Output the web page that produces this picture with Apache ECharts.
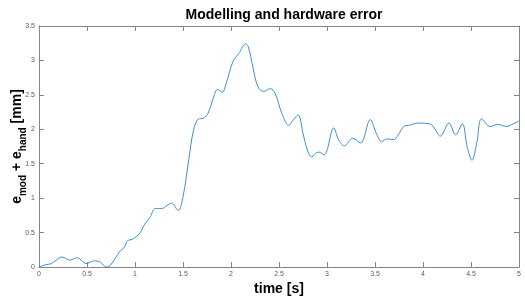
<!DOCTYPE html>
<html><head><meta charset="utf-8">
<script src="https://cdn.jsdelivr.net/npm/echarts@6/dist/echarts.min.js"></script>
<style>html,body{margin:0;padding:0;background:#fff}#c{width:525px;height:299px}</style>
</head><body><div id="c"></div>
<script>
const titleText = "Modelling and hardware error";
const xTicks = [0,0.5,1,1.5,2,2.5,3,3.5,4,4.5,5];
const yTicks = [0,0.5,1,1.5,2,2.5,3,3.5];
const times = [0,0.06,0.13,0.18,0.24,0.32,0.40,0.49,0.58,0.64,0.70,0.74,0.85,0.88,0.93,0.97,1.05,1.10,1.16,1.21,1.28,1.33,1.38,1.45,1.50,1.56,1.61,1.66,1.71,1.76,1.82,1.86,1.91,1.95,2.02,2.09,2.15,2.18,2.23,2.28,2.34,2.41,2.46,2.53,2.60,2.65,2.70,2.75,2.80,2.84,2.91,2.97,3.07,3.12,3.18,3.27,3.35,3.45,3.52,3.57,3.62,3.69,3.80,3.86,3.95,4.07,4.13,4.18,4.27,4.34,4.41,4.46,4.51,4.56,4.61,4.70,4.78,4.87,4.94,5.0];
const errors = [0,0.03,0.05,0.1,0.145,0.1,0.135,0.05,0.09,0.07,0.0,0.02,0.24,0.27,0.39,0.40,0.49,0.62,0.73,0.85,0.85,0.89,0.93,0.82,1.02,1.56,1.99,2.15,2.16,2.23,2.47,2.58,2.54,2.67,2.98,3.12,3.24,3.2,2.89,2.62,2.55,2.59,2.52,2.23,2.06,2.14,2.21,1.94,1.68,1.60,1.67,1.63,2.02,1.85,1.76,1.87,1.80,2.14,1.92,1.82,1.86,1.85,2.04,2.06,2.09,2.08,1.99,1.90,2.09,1.92,2.08,1.75,1.55,1.80,2.15,2.04,2.07,2.04,2.08,2.12];

const axisColor = '#858585';
const labelColor = '#5a5a5a';
const font = 'Liberation Sans, Arial, sans-serif';
const chart = echarts.init(document.getElementById('c'), null, {renderer:'canvas'});
const xBase = {type:'value', min:xTicks[0], max:xTicks[xTicks.length-1], interval:0.5,
  axisLine:{show:true, onZero:false, lineStyle:{color:axisColor, width:1}},
  axisTick:{show:true, inside:true, length:5, lineStyle:{color:axisColor}},
  splitLine:{show:false}};
const yBase = {type:'value', min:yTicks[0], max:yTicks[yTicks.length-1], interval:0.5,
  axisLine:{show:true, onZero:false, lineStyle:{color:axisColor, width:1}},
  axisTick:{show:true, inside:true, length:5, lineStyle:{color:axisColor}},
  splitLine:{show:false}};
chart.setOption({
  animation:false,
  backgroundColor:'#fff',
  title:{text:titleText, left:279, top:3, textAlign:'center',
    textStyle:{fontFamily:font, fontSize:14, fontWeight:'bold', color:'#000'}},
  grid:{left:39, right:6, top:26, bottom:32, containLabel:false, outerBoundsMode:'none'},
  xAxis:[
    Object.assign({}, xBase, {position:'bottom', name:'time [s]', nameLocation:'middle', nameGap:15, nameMoveOverlap:false,
      nameTextStyle:{fontFamily:font, fontSize:14, fontWeight:'bold', color:'#000'},
      axisLabel:{show:true, fontFamily:font, fontSize:7, color:labelColor, margin:4}}),
    Object.assign({}, xBase, {position:'top', axisLabel:{show:false}})
  ],
  yAxis:[
    Object.assign({}, yBase, {position:'left',
      name:'{b|e}{s|mod}{b| + e}{s|hand}{b| [mm]}', nameLocation:'middle', nameGap:11, nameRotate:90, nameMoveOverlap:false,
      nameTextStyle:{rich:{
        b:{fontFamily:font, fontSize:14, fontWeight:'bold', color:'#000', lineHeight:22, verticalAlign:'middle'},
        s:{fontFamily:font, fontSize:10, fontWeight:'bold', color:'#000', lineHeight:22, verticalAlign:'bottom'}
      }},
      axisLabel:{show:true, fontFamily:font, fontSize:7, color:labelColor, margin:4}}),
    Object.assign({}, yBase, {position:'right', axisLabel:{show:false}})
  ],
  series:[{type:'line', xAxisIndex:0, yAxisIndex:0, data:times.map((t,i)=>[t, errors[i]]),
    smooth:0.35, showSymbol:false, symbol:'none', clip:true,
    lineStyle:{color:'#3d8fd6', width:1}}]
});
</script></body></html>
